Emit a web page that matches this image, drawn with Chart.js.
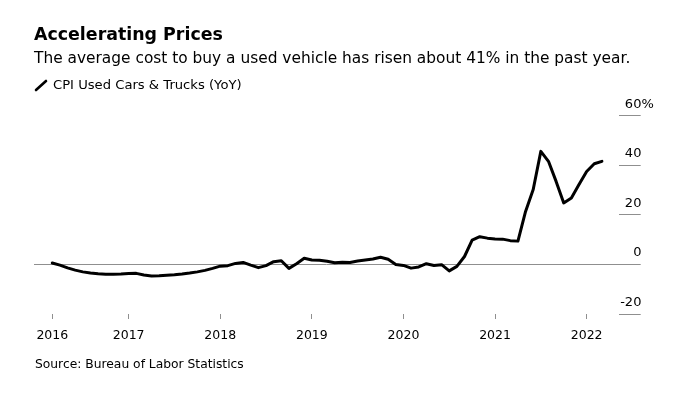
<!DOCTYPE html>
<html>
<head>
<meta charset="utf-8">
<script src="https://cdn.jsdelivr.net/npm/chart.js@4.4.1/dist/chart.umd.min.js"></script>
<style>
  html, body { margin: 0; padding: 0; background: #fff; }
  body { width: 692px; height: 398px; position: relative; overflow: hidden; font-family: "DejaVu Sans", sans-serif; color: #000; }
  .txt { position: absolute; white-space: nowrap; line-height: 1; }
  #title { left: 34px; top: 26.3px; font-size: 17.4px; font-weight: bold; }
  #subtitle { left: 34px; top: 51.3px; font-size: 15.4px; }
  #legend { left: 53px; top: 77.9px; font-size: 13.15px; }
  #source { left: 35px; top: 357.8px; font-size: 12.3px; }
  #icon { position: absolute; left: 34px; top: 79px; }
  #graph { position: absolute; left: 0; top: 0; }
</style>
</head>
<body>
<canvas id="graph" width="692" height="398"></canvas>
<div class="txt" id="title">Accelerating Prices</div>
<div class="txt" id="subtitle">The average cost to buy a used vehicle has risen about 41% in the past year.</div>
<svg id="icon" width="14" height="13"><line x1="2" y1="11" x2="12" y2="2" stroke="#000" stroke-width="2.6" stroke-linecap="round"/></svg>
<div class="txt" id="legend">CPI Used Cars &amp; Trucks (YoY)</div>
<div class="txt" id="source">Source: Bureau of Labor Statistics</div>
<script>
// month end dates, Feb 2016 .. Feb 2022
const months = [
  "2016-02","2016-03","2016-04","2016-05","2016-06","2016-07","2016-08","2016-09","2016-10","2016-11","2016-12",
  "2017-01","2017-02","2017-03","2017-04","2017-05","2017-06","2017-07","2017-08","2017-09","2017-10","2017-11","2017-12",
  "2018-01","2018-02","2018-03","2018-04","2018-05","2018-06","2018-07","2018-08","2018-09","2018-10","2018-11","2018-12",
  "2019-01","2019-02","2019-03","2019-04","2019-05","2019-06","2019-07","2019-08","2019-09","2019-10","2019-11","2019-12",
  "2020-01","2020-02","2020-03","2020-04","2020-05","2020-06","2020-07","2020-08","2020-09","2020-10","2020-11","2020-12",
  "2021-01","2021-02","2021-03","2021-04","2021-05","2021-06","2021-07","2021-08","2021-09","2021-10","2021-11","2021-12",
  "2022-01","2022-02"
];
const usedCars = [
  0.6, -0.3, -1.4, -2.3, -3.0, -3.5, -3.8, -4.0, -4.0, -3.9, -3.7,
  -3.6, -4.3, -4.7, -4.6, -4.4, -4.2, -3.9, -3.5, -3.0, -2.4, -1.6, -0.7,
  -0.5, 0.4, 0.8, -0.3, -1.3, -0.5, 1.1, 1.5, -1.6, 0.3, 2.5, 1.8,
  1.7, 1.3, 0.7, 0.9, 0.8, 1.4, 1.8, 2.2, 2.9, 2.1, 0.0, -0.4,
  -1.5, -1.0, 0.3, -0.4, -0.1, -2.6, -0.8, 3.2, 9.8, 11.2, 10.6, 10.3,
  10.2, 9.6, 9.4, 21.4, 30.2, 45.6, 41.6, 33.5, 24.8, 26.8, 32.2, 37.5,
  40.6, 41.6
];
const xTicks = [2016 + 2 / 12, 2017, 2018, 2019, 2020, 2021, 2022];
const xLabels = ["2016", "2017", "2018", "2019", "2020", "2021", "2022"];
const yTicks = [-20, 0, 20, 40, 60];
const yLabels = ["-20", "0", "20", "40", "60"];

const gray = "#8f8f8f";

function monthToYear(m) {
  const parts = m.split("-");
  return Number(parts[0]) + Number(parts[1]) / 12;
}

const points = months.map((m, i) => ({ x: monthToYear(m), y: usedCars[i] }));

const yLabelPlugin = {
  id: "yLabels",
  afterDraw(chart) {
    const ctx = chart.ctx;
    const scale = chart.scales.y;
    const right = scale.right + 0.7;
    ctx.save();
    ctx.font = "13px 'DejaVu Sans'";
    ctx.fillStyle = "#000";
    ctx.textBaseline = "alphabetic";
    yTicks.forEach((v, i) => {
      const y = scale.getPixelForValue(v) - 8;
      ctx.textAlign = "right";
      ctx.fillText(yLabels[i], right, y);
      if (i === yTicks.length - 1) {
        ctx.textAlign = "left";
        ctx.fillText("%", right, y);
      }
    });
    ctx.restore();
  }
};

const ctx = document.getElementById("graph").getContext("2d");
new Chart(ctx, {
  type: "line",
  data: {
    datasets: [{
      label: "CPI Used Cars & Trucks (YoY)",
      data: points,
      borderColor: "#000",
      borderWidth: 3,
      borderJoinStyle: "round",
      borderCapStyle: "round",
      pointRadius: 0,
      tension: 0,
      fill: false
    }]
  },
  options: {
    responsive: false,
    animation: false,
    devicePixelRatio: 1,
    layout: { padding: { left: 34, right: 51.3, top: 115.7, bottom: 44 } },
    plugins: { legend: { display: false }, tooltip: { enabled: false } },
    scales: {
      x: {
        type: "linear",
        min: 2015.967,
        max: 2022.35,
        afterBuildTicks: scale => { scale.ticks = xTicks.map(v => ({ value: v })); },
        afterFit: scale => { scale.height = 40; },
        grid: { drawOnChartArea: false, drawTicks: true, tickLength: 5, tickColor: gray, lineWidth: 1 },
        border: { display: false },
        ticks: {
          autoSkip: false,
          maxRotation: 0,
          padding: 9.5,
          color: "#000",
          font: { family: "DejaVu Sans", size: 12.5 },
          callback: (value, index) => xLabels[index]
        }
      },
      y: {
        position: "right",
        min: -20,
        max: 60,
        afterBuildTicks: scale => { scale.ticks = yTicks.map(v => ({ value: v })); },
        afterFit: scale => { scale.width = 22; },
        grid: {
          color: c => (c.tick && c.tick.value === 0 ? gray : "rgba(0,0,0,0)"),
          tickColor: gray,
          tickLength: 22,
          lineWidth: 1
        },
        border: { display: false },
        ticks: { display: false }
      }
    }
  },
  plugins: [yLabelPlugin]
});
</script>
</body>
</html>
